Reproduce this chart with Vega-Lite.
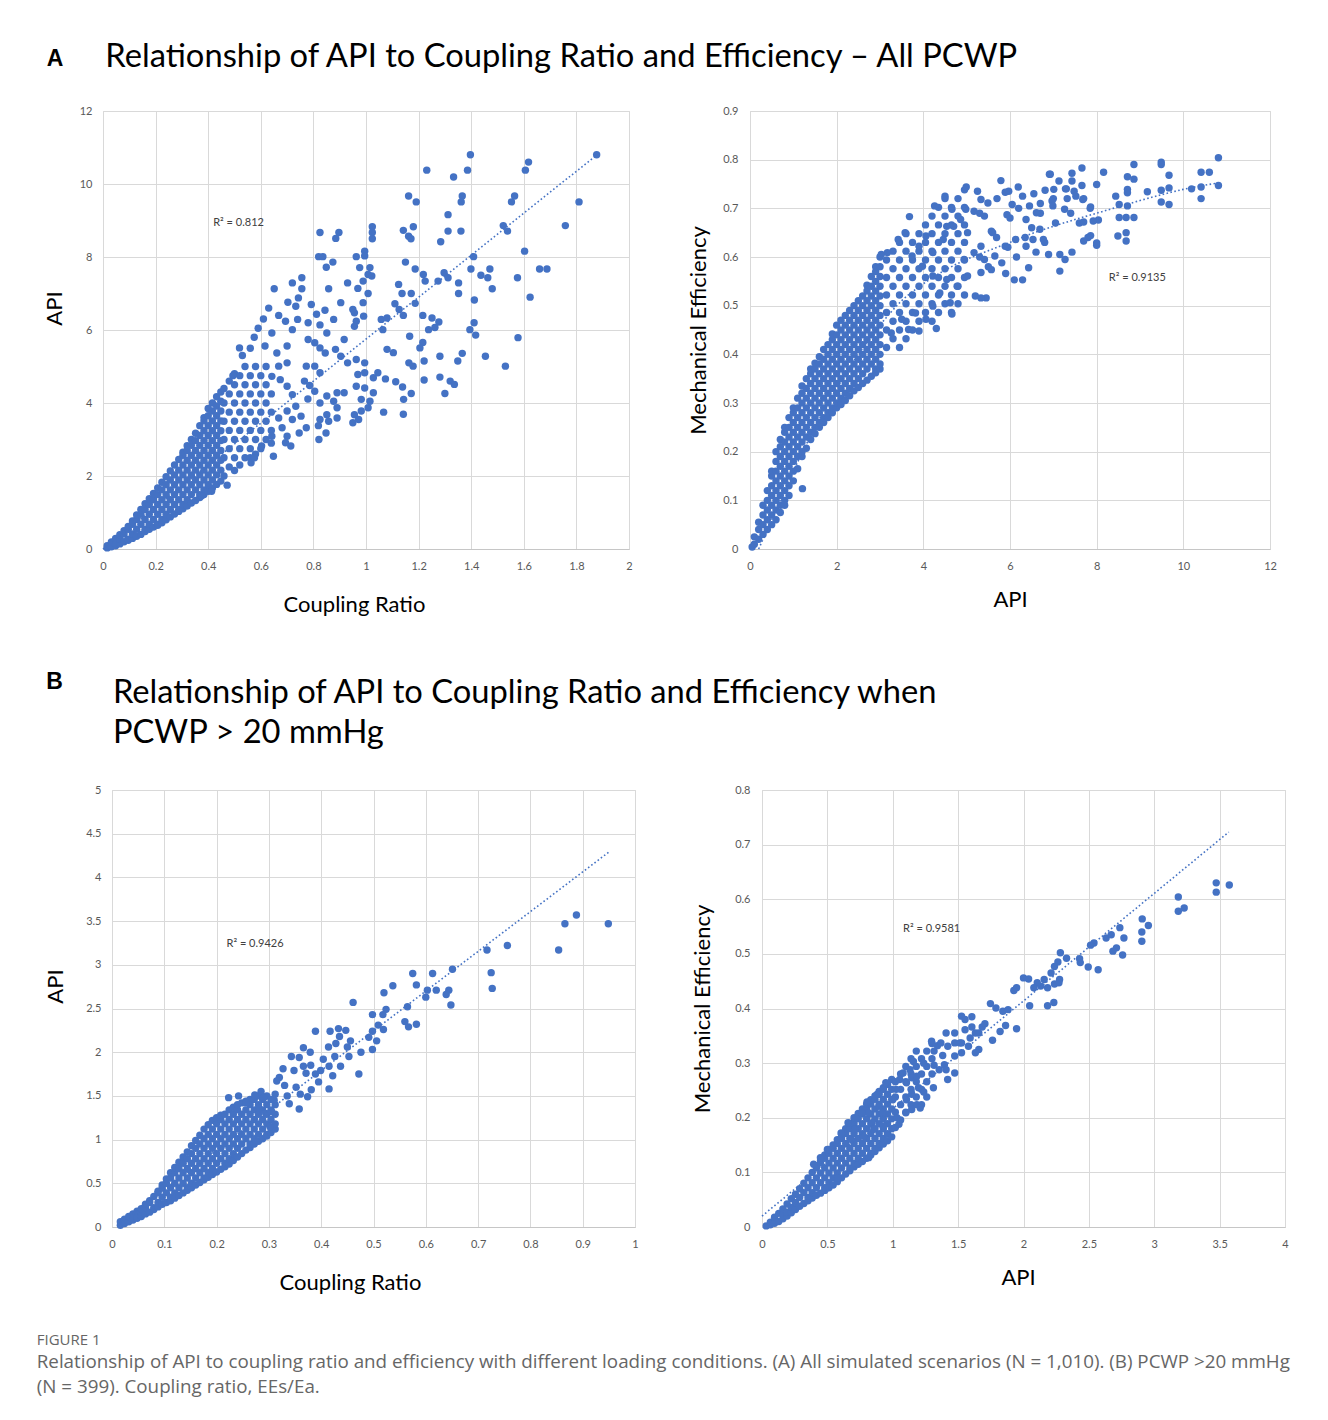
{
"$schema":"https://vega.github.io/schema/vega-lite/v6.json",
"background":"white",
"padding":{"left":36,"top":40,"right":5,"bottom":5},
"config":{
 "font":"Lato",
 "view":{"stroke":"#d9d9d9","strokeWidth":1},
 "axis":{"grid":true,"gridColor":"#d9d9d9","gridWidth":1,"domain":false,"ticks":false,"labelFont":"Lato","labelFontSize":11,"labelColor":"#595959","labelPadding":11,"titleFont":"Lato","titleFontSize":22,"titleFontWeight":"normal","titleColor":"#000000","labelFlush":false,"labelOverlap":false,"labelBound":false},
 "axisX":{"domain":true,"domainColor":"#c6c6c6"}
},
"datasets":{
"a1":[
{"x":0.016,"y":0.03},{"x":0.016,"y":0.09},{"x":0.032,"y":0.06},{"x":0.032,"y":0.19},{"x":0.048,"y":0.09},{"x":0.048,"y":0.14},{"x":0.048,"y":0.29},{"x":0.064,"y":0.14},{"x":0.064,"y":0.27},{"x":0.064,"y":0.39},{"x":0.08,"y":0.2},{"x":0.08,"y":0.41},{"x":0.08,"y":0.5},{"x":0.096,"y":0.24},{"x":0.096,"y":0.27},{"x":0.096,"y":0.54},{"x":0.096,"y":0.62},{"x":0.112,"y":0.29},{"x":0.112,"y":0.41},{"x":0.112,"y":0.68},{"x":0.112,"y":0.77},{"x":0.128,"y":0.35},{"x":0.128,"y":0.54},{"x":0.128,"y":0.81},{"x":0.128,"y":0.93},{"x":0.144,"y":0.4},{"x":0.144,"y":0.68},{"x":0.144,"y":0.95},{"x":0.144,"y":1.08},{"x":0.16,"y":0.48},{"x":0.16,"y":0.54},{"x":0.16,"y":0.81},{"x":0.16,"y":1.08},{"x":0.16,"y":1.24},{"x":0.176,"y":0.54},{"x":0.176,"y":0.68},{"x":0.176,"y":0.95},{"x":0.176,"y":1.22},{"x":0.176,"y":1.38},{"x":0.192,"y":0.6},{"x":0.192,"y":0.81},{"x":0.192,"y":1.08},{"x":0.192,"y":1.35},{"x":0.192,"y":1.52},{"x":0.208,"y":0.65},{"x":0.208,"y":0.68},{"x":0.208,"y":0.95},{"x":0.208,"y":1.22},{"x":0.208,"y":1.49},{"x":0.208,"y":1.67},{"x":0.224,"y":0.72},{"x":0.224,"y":0.81},{"x":0.224,"y":1.08},{"x":0.224,"y":1.35},{"x":0.224,"y":1.62},{"x":0.224,"y":1.83},{"x":0.24,"y":0.8},{"x":0.24,"y":0.95},{"x":0.24,"y":1.22},{"x":0.24,"y":1.49},{"x":0.24,"y":1.76},{"x":0.24,"y":1.98},{"x":0.256,"y":0.88},{"x":0.256,"y":1.08},{"x":0.256,"y":1.35},{"x":0.256,"y":1.62},{"x":0.256,"y":1.89},{"x":0.256,"y":2.14},{"x":0.272,"y":0.96},{"x":0.272,"y":1.22},{"x":0.272,"y":1.49},{"x":0.272,"y":1.76},{"x":0.272,"y":2.03},{"x":0.272,"y":2.3},{"x":0.288,"y":1.03},{"x":0.288,"y":1.08},{"x":0.288,"y":1.35},{"x":0.288,"y":1.62},{"x":0.288,"y":1.89},{"x":0.288,"y":2.16},{"x":0.288,"y":2.45},{"x":0.304,"y":1.1},{"x":0.304,"y":1.22},{"x":0.304,"y":1.49},{"x":0.304,"y":1.76},{"x":0.304,"y":2.03},{"x":0.304,"y":2.3},{"x":0.304,"y":2.57},{"x":0.304,"y":2.65},{"x":0.32,"y":1.18},{"x":0.32,"y":1.35},{"x":0.32,"y":1.62},{"x":0.32,"y":1.89},{"x":0.32,"y":2.16},{"x":0.32,"y":2.43},{"x":0.32,"y":2.7},{"x":0.32,"y":2.83},{"x":0.336,"y":1.26},{"x":0.336,"y":1.49},{"x":0.336,"y":1.76},{"x":0.336,"y":2.03},{"x":0.336,"y":2.3},{"x":0.336,"y":2.57},{"x":0.336,"y":2.84},{"x":0.336,"y":3.0},{"x":0.352,"y":1.33},{"x":0.352,"y":1.62},{"x":0.352,"y":1.89},{"x":0.352,"y":2.16},{"x":0.352,"y":2.43},{"x":0.352,"y":2.7},{"x":0.352,"y":2.97},{"x":0.352,"y":3.17},{"x":0.368,"y":1.41},{"x":0.368,"y":1.49},{"x":0.368,"y":1.76},{"x":0.368,"y":2.03},{"x":0.368,"y":2.3},{"x":0.368,"y":2.57},{"x":0.368,"y":2.84},{"x":0.368,"y":3.11},{"x":0.368,"y":3.38},{"x":0.384,"y":1.49},{"x":0.384,"y":1.62},{"x":0.384,"y":1.89},{"x":0.384,"y":2.16},{"x":0.384,"y":2.43},{"x":0.384,"y":2.7},{"x":0.384,"y":2.97},{"x":0.384,"y":3.24},{"x":0.384,"y":3.51},{"x":0.384,"y":3.6},{"x":0.4,"y":1.58},{"x":0.4,"y":1.76},{"x":0.4,"y":2.03},{"x":0.4,"y":2.3},{"x":0.4,"y":2.57},{"x":0.4,"y":2.84},{"x":0.4,"y":3.11},{"x":0.4,"y":3.38},{"x":0.4,"y":3.65},{"x":0.4,"y":3.85},{"x":0.416,"y":1.67},{"x":0.416,"y":1.89},{"x":0.416,"y":2.16},{"x":0.416,"y":2.43},{"x":0.416,"y":2.7},{"x":0.416,"y":2.97},{"x":0.416,"y":3.24},{"x":0.416,"y":3.51},{"x":0.416,"y":3.78},{"x":0.416,"y":4.0},{"x":0.432,"y":1.77},{"x":0.432,"y":2.03},{"x":0.432,"y":2.3},{"x":0.432,"y":2.57},{"x":0.432,"y":2.84},{"x":0.432,"y":3.11},{"x":0.432,"y":3.38},{"x":0.432,"y":3.65},{"x":0.432,"y":3.92},{"x":0.432,"y":4.17},{"x":0.448,"y":1.86},{"x":0.448,"y":2.16},{"x":0.448,"y":2.43},{"x":0.448,"y":2.7},{"x":0.448,"y":2.97},{"x":0.448,"y":3.24},{"x":0.448,"y":3.51},{"x":0.448,"y":3.78},{"x":0.448,"y":4.05},{"x":0.448,"y":4.3},
{"x":0.46,"y":2.0},{"x":0.46,"y":2.5},{"x":0.46,"y":3.0},{"x":0.46,"y":3.5},{"x":0.46,"y":4.0},{"x":0.46,"y":4.4},{"x":0.48,"y":2.25},{"x":0.48,"y":2.75},{"x":0.48,"y":3.25},{"x":0.48,"y":3.75},{"x":0.48,"y":4.25},{"x":0.48,"y":4.6},{"x":0.5,"y":2.15},{"x":0.5,"y":2.5},{"x":0.5,"y":3.0},{"x":0.5,"y":3.5},{"x":0.5,"y":4.0},{"x":0.5,"y":4.5},{"x":0.5,"y":4.8},{"x":0.52,"y":2.3},{"x":0.52,"y":2.75},{"x":0.52,"y":3.25},{"x":0.52,"y":3.75},{"x":0.52,"y":4.25},{"x":0.52,"y":4.75},{"x":0.54,"y":2.5},{"x":0.54,"y":3.0},{"x":0.54,"y":3.5},{"x":0.54,"y":4.0},{"x":0.54,"y":4.5},{"x":0.54,"y":5.0},{"x":0.56,"y":2.5},{"x":0.56,"y":2.75},{"x":0.56,"y":3.25},{"x":0.56,"y":3.75},{"x":0.56,"y":4.25},{"x":0.56,"y":4.75},{"x":0.56,"y":5.5},{"x":0.58,"y":2.6},{"x":0.58,"y":3.0},{"x":0.58,"y":3.5},{"x":0.58,"y":4.0},{"x":0.58,"y":4.5},{"x":0.58,"y":5.0},{"x":0.6,"y":2.75},{"x":0.6,"y":3.25},{"x":0.6,"y":3.75},{"x":0.6,"y":4.25},{"x":0.6,"y":4.75},{"x":0.62,"y":3.0},{"x":0.62,"y":3.5},{"x":0.62,"y":4.0},{"x":0.62,"y":4.5},{"x":0.62,"y":5.0},{"x":0.64,"y":2.9},{"x":0.64,"y":3.25},{"x":0.64,"y":3.75},{"x":0.64,"y":4.25},
{"x":0.616,"y":5.56},{"x":0.642,"y":5.92},{"x":0.668,"y":6.4},{"x":0.694,"y":6.24},{"x":0.7,"y":5.56},{"x":0.72,"y":6.01},{"x":0.733,"y":6.65},{"x":0.74,"y":6.29},{"x":0.661,"y":5.37},{"x":0.7,"y":5.1},{"x":0.668,"y":5.01},{"x":0.642,"y":4.73},{"x":0.674,"y":4.64},{"x":0.7,"y":4.46},{"x":0.72,"y":4.23},{"x":0.733,"y":3.91},{"x":0.753,"y":3.64},{"x":0.7,"y":3.78},{"x":0.668,"y":3.59},{"x":0.72,"y":3.55},{"x":0.681,"y":3.32},{"x":0.7,"y":3.09},{"x":0.714,"y":2.82},{"x":0.694,"y":2.91},{"x":0.773,"y":3.32},{"x":0.746,"y":3.18},{"x":0.642,"y":3.09},{"x":0.603,"y":2.82},{"x":0.563,"y":2.36},{"x":0.576,"y":2.5},{"x":0.648,"y":2.54},
{"x":0.78,"y":5.74},{"x":0.805,"y":5.65},{"x":0.825,"y":5.51},{"x":0.845,"y":5.37},{"x":0.773,"y":5.01},{"x":0.805,"y":5.01},{"x":0.825,"y":4.83},{"x":0.766,"y":4.6},{"x":0.786,"y":4.48},{"x":0.805,"y":4.32},{"x":0.779,"y":4.11},{"x":0.825,"y":4.0},{"x":0.851,"y":4.19},{"x":0.89,"y":4.28},{"x":0.917,"y":4.28},{"x":0.877,"y":4.05},{"x":0.89,"y":3.87},{"x":0.851,"y":3.68},{"x":0.825,"y":3.55},{"x":0.858,"y":3.5},{"x":0.819,"y":3.38},{"x":0.848,"y":3.18},{"x":0.821,"y":3.0},{"x":0.89,"y":3.59},{"x":0.917,"y":5.74},{"x":0.884,"y":5.47},{"x":0.904,"y":5.28},{"x":0.93,"y":5.1},{"x":0.963,"y":5.19},{"x":0.995,"y":5.1},{"x":0.969,"y":4.78},{"x":0.995,"y":4.83},{"x":0.963,"y":4.46},{"x":0.995,"y":4.41},{"x":1.028,"y":4.69},{"x":1.045,"y":4.83},{"x":1.074,"y":4.66},{"x":1.015,"y":4.05},{"x":0.982,"y":4.1},{"x":1.008,"y":3.87},{"x":1.028,"y":4.28},{"x":0.982,"y":3.78},{"x":0.956,"y":3.68},{"x":0.95,"y":3.46},{"x":0.972,"y":3.55},
{"x":1.877,"y":10.8},{"x":1.397,"y":10.8},{"x":1.618,"y":10.6},{"x":1.606,"y":10.38},{"x":1.231,"y":10.38},{"x":1.386,"y":10.38},{"x":1.333,"y":10.19},{"x":1.162,"y":9.67},{"x":1.191,"y":9.51},{"x":1.366,"y":9.67},{"x":1.362,"y":9.51},{"x":1.565,"y":9.67},{"x":1.553,"y":9.51},{"x":1.81,"y":9.51},{"x":1.312,"y":9.16},{"x":1.758,"y":8.86},{"x":1.522,"y":8.86},{"x":1.538,"y":8.71},{"x":1.312,"y":8.71},{"x":1.361,"y":8.71},{"x":1.284,"y":8.42},{"x":0.825,"y":8.67},{"x":0.897,"y":8.67},{"x":0.885,"y":8.51},{"x":1.024,"y":8.83},{"x":1.024,"y":8.67},{"x":1.024,"y":8.5},{"x":1.142,"y":8.73},{"x":1.162,"y":8.57},{"x":1.171,"y":8.5},{"x":1.18,"y":8.83},{"x":1.603,"y":8.16},{"x":1.409,"y":8.01},{"x":0.995,"y":8.16},{"x":0.995,"y":8.03},{"x":0.963,"y":8.01},{"x":0.82,"y":8.01},{"x":0.836,"y":8.01},{"x":0.874,"y":7.86},{"x":0.849,"y":7.72},{"x":1.66,"y":7.67},{"x":1.688,"y":7.67},{"x":1.15,"y":7.86},{"x":1.187,"y":7.67},{"x":1.218,"y":7.52},{"x":1.225,"y":7.34},{"x":1.399,"y":7.67},{"x":1.437,"y":7.5},{"x":1.471,"y":7.67},{"x":1.463,"y":7.43},{"x":1.576,"y":7.43},{"x":1.297,"y":7.57},{"x":1.312,"y":7.43},{"x":1.274,"y":7.34},{"x":1.352,"y":7.29},{"x":1.352,"y":7.0},{"x":1.48,"y":7.13},{"x":1.412,"y":6.82},{"x":1.624,"y":6.9},{"x":0.976,"y":7.71},{"x":1.015,"y":7.71},{"x":1.008,"y":7.52},{"x":0.93,"y":7.29},{"x":0.858,"y":7.13},{"x":0.904,"y":6.75},{"x":0.72,"y":7.29},{"x":0.756,"y":7.43},{"x":0.756,"y":7.13},{"x":0.743,"y":6.88},{"x":0.703,"y":6.76},{"x":1.124,"y":7.25},{"x":1.137,"y":7.0},{"x":1.172,"y":7.0},{"x":1.187,"y":6.73},{"x":1.11,"y":6.72},{"x":1.126,"y":6.56},{"x":1.142,"y":6.4},{"x":1.216,"y":6.4},{"x":1.251,"y":6.33},{"x":1.277,"y":6.22},{"x":1.262,"y":6.07},{"x":1.238,"y":6.01},{"x":1.411,"y":6.2},{"x":1.395,"y":6.01},{"x":1.417,"y":5.86},{"x":1.578,"y":5.79},{"x":0.812,"y":6.43},{"x":0.844,"y":6.54},{"x":0.877,"y":6.29},{"x":0.825,"y":6.14},{"x":0.956,"y":6.47},{"x":0.963,"y":6.24},{"x":0.991,"y":6.38},{"x":1.058,"y":6.29},{"x":1.08,"y":6.33},{"x":1.064,"y":6.01},{"x":1.166,"y":5.83},{"x":1.216,"y":5.66},{"x":1.205,"y":5.51},{"x":1.281,"y":5.28},{"x":1.366,"y":5.36},{"x":1.349,"y":5.15},{"x":1.454,"y":5.28},{"x":1.53,"y":5.01},{"x":1.221,"y":5.15},{"x":1.163,"y":5.1},{"x":1.179,"y":5.01},{"x":1.281,"y":4.71},{"x":1.32,"y":4.6},{"x":1.336,"y":4.51},{"x":1.3,"y":4.26},{"x":1.221,"y":4.63},{"x":1.113,"y":4.58},{"x":1.139,"y":4.44},{"x":1.172,"y":4.26},{"x":1.143,"y":4.1},{"x":1.142,"y":3.69},{"x":1.067,"y":3.75},{"x":1.08,"y":5.47},{"x":1.104,"y":5.38},{"x":0.519,"y":5.51},{"x":0.494,"y":4.75},{"x":0.472,"y":1.75},{"x":0.413,"y":1.58},{"x":0.375,"y":1.46},{"x":0.651,"y":7.13},{"x":0.53,"y":5.3},{"x":0.575,"y":5.8},{"x":0.59,"y":6.05},{"x":0.61,"y":6.3},{"x":0.63,"y":6.6},{"x":0.969,"y":7.14},{"x":0.989,"y":7.34},{"x":1.008,"y":7.0},{"x":1.022,"y":7.48},{"x":0.95,"y":6.56},{"x":0.989,"y":6.75},{"x":0.956,"y":6.1},{"x":0.792,"y":6.7},{"x":0.851,"y":5.92},{"x":0.78,"y":6.2}
],
"a2":[
{"x":0.05,"y":0.004},{"x":0.1,"y":0.01},{"x":0.1,"y":0.025},{"x":0.2,"y":0.02},{"x":0.2,"y":0.04},{"x":0.2,"y":0.055},{"x":0.3,"y":0.03},{"x":0.3,"y":0.05},{"x":0.3,"y":0.07},{"x":0.3,"y":0.09},{"x":0.4,"y":0.04},{"x":0.4,"y":0.06},{"x":0.4,"y":0.08},{"x":0.4,"y":0.1},{"x":0.4,"y":0.12},{"x":0.5,"y":0.05},{"x":0.5,"y":0.07},{"x":0.5,"y":0.09},{"x":0.5,"y":0.11},{"x":0.5,"y":0.13},{"x":0.5,"y":0.15},{"x":0.5,"y":0.16},{"x":0.6,"y":0.06},{"x":0.6,"y":0.08},{"x":0.6,"y":0.1},{"x":0.6,"y":0.12},{"x":0.6,"y":0.14},{"x":0.6,"y":0.16},{"x":0.6,"y":0.18},{"x":0.6,"y":0.2},{"x":0.7,"y":0.075},{"x":0.7,"y":0.09},{"x":0.7,"y":0.11},{"x":0.7,"y":0.13},{"x":0.7,"y":0.15},{"x":0.7,"y":0.17},{"x":0.7,"y":0.19},{"x":0.7,"y":0.21},{"x":0.7,"y":0.225},{"x":0.8,"y":0.09},{"x":0.8,"y":0.1},{"x":0.8,"y":0.12},{"x":0.8,"y":0.14},{"x":0.8,"y":0.16},{"x":0.8,"y":0.18},{"x":0.8,"y":0.2},{"x":0.8,"y":0.22},{"x":0.8,"y":0.24},{"x":0.8,"y":0.25},{"x":0.9,"y":0.11},{"x":0.9,"y":0.13},{"x":0.9,"y":0.15},{"x":0.9,"y":0.17},{"x":0.9,"y":0.19},{"x":0.9,"y":0.21},{"x":0.9,"y":0.23},{"x":0.9,"y":0.25},{"x":0.9,"y":0.27},{"x":1.0,"y":0.14},{"x":1.0,"y":0.16},{"x":1.0,"y":0.18},{"x":1.0,"y":0.2},{"x":1.0,"y":0.22},{"x":1.0,"y":0.24},{"x":1.0,"y":0.26},{"x":1.0,"y":0.28},{"x":1.0,"y":0.29},{"x":1.1,"y":0.165},{"x":1.1,"y":0.19},{"x":1.1,"y":0.21},{"x":1.1,"y":0.23},{"x":1.1,"y":0.25},{"x":1.1,"y":0.27},{"x":1.1,"y":0.29},{"x":1.1,"y":0.31},{"x":1.2,"y":0.19},{"x":1.2,"y":0.2},{"x":1.2,"y":0.22},{"x":1.2,"y":0.24},{"x":1.2,"y":0.26},{"x":1.2,"y":0.28},{"x":1.2,"y":0.3},{"x":1.2,"y":0.32},{"x":1.2,"y":0.335},{"x":1.3,"y":0.207},{"x":1.3,"y":0.23},{"x":1.3,"y":0.25},{"x":1.3,"y":0.27},{"x":1.3,"y":0.29},{"x":1.3,"y":0.31},{"x":1.3,"y":0.33},{"x":1.3,"y":0.35},{"x":1.4,"y":0.225},{"x":1.4,"y":0.24},{"x":1.4,"y":0.26},{"x":1.4,"y":0.28},{"x":1.4,"y":0.3},{"x":1.4,"y":0.32},{"x":1.4,"y":0.34},{"x":1.4,"y":0.36},{"x":1.4,"y":0.37},{"x":1.5,"y":0.237},{"x":1.5,"y":0.25},{"x":1.5,"y":0.27},{"x":1.5,"y":0.29},{"x":1.5,"y":0.31},{"x":1.5,"y":0.33},{"x":1.5,"y":0.35},{"x":1.5,"y":0.37},{"x":1.5,"y":0.382},{"x":1.6,"y":0.25},{"x":1.6,"y":0.26},{"x":1.6,"y":0.28},{"x":1.6,"y":0.3},{"x":1.6,"y":0.32},{"x":1.6,"y":0.34},{"x":1.6,"y":0.36},{"x":1.6,"y":0.38},{"x":1.6,"y":0.395},{"x":1.7,"y":0.26},{"x":1.7,"y":0.27},{"x":1.7,"y":0.29},{"x":1.7,"y":0.31},{"x":1.7,"y":0.33},{"x":1.7,"y":0.35},{"x":1.7,"y":0.37},{"x":1.7,"y":0.39},{"x":1.7,"y":0.41},{"x":1.8,"y":0.27},{"x":1.8,"y":0.28},{"x":1.8,"y":0.3},{"x":1.8,"y":0.32},{"x":1.8,"y":0.34},{"x":1.8,"y":0.36},{"x":1.8,"y":0.38},{"x":1.8,"y":0.4},{"x":1.8,"y":0.42},{"x":1.9,"y":0.28},{"x":1.9,"y":0.29},{"x":1.9,"y":0.31},{"x":1.9,"y":0.33},{"x":1.9,"y":0.35},{"x":1.9,"y":0.37},{"x":1.9,"y":0.39},{"x":1.9,"y":0.41},{"x":1.9,"y":0.43},{"x":1.9,"y":0.442},{"x":2.0,"y":0.29},{"x":2.0,"y":0.3},{"x":2.0,"y":0.32},{"x":2.0,"y":0.34},{"x":2.0,"y":0.36},{"x":2.0,"y":0.38},{"x":2.0,"y":0.4},{"x":2.0,"y":0.42},{"x":2.0,"y":0.44},{"x":2.0,"y":0.46},{"x":2.1,"y":0.297},{"x":2.1,"y":0.31},{"x":2.1,"y":0.33},{"x":2.1,"y":0.35},{"x":2.1,"y":0.37},{"x":2.1,"y":0.39},{"x":2.1,"y":0.41},{"x":2.1,"y":0.43},{"x":2.1,"y":0.45},{"x":2.1,"y":0.47},{"x":2.2,"y":0.305},{"x":2.2,"y":0.32},{"x":2.2,"y":0.34},{"x":2.2,"y":0.36},{"x":2.2,"y":0.38},{"x":2.2,"y":0.4},{"x":2.2,"y":0.42},{"x":2.2,"y":0.44},{"x":2.2,"y":0.46},{"x":2.2,"y":0.48},{"x":2.3,"y":0.315},{"x":2.3,"y":0.33},{"x":2.3,"y":0.35},{"x":2.3,"y":0.37},{"x":2.3,"y":0.39},{"x":2.3,"y":0.41},{"x":2.3,"y":0.43},{"x":2.3,"y":0.45},{"x":2.3,"y":0.47},{"x":2.3,"y":0.49},{"x":2.4,"y":0.325},{"x":2.4,"y":0.34},{"x":2.4,"y":0.36},{"x":2.4,"y":0.38},{"x":2.4,"y":0.4},{"x":2.4,"y":0.42},{"x":2.4,"y":0.44},{"x":2.4,"y":0.46},{"x":2.4,"y":0.48},{"x":2.4,"y":0.5},{"x":2.5,"y":0.332},{"x":2.5,"y":0.35},{"x":2.5,"y":0.37},{"x":2.5,"y":0.39},{"x":2.5,"y":0.41},{"x":2.5,"y":0.43},{"x":2.5,"y":0.45},{"x":2.5,"y":0.47},{"x":2.5,"y":0.49},{"x":2.5,"y":0.51},{"x":2.6,"y":0.34},{"x":2.6,"y":0.36},{"x":2.6,"y":0.38},{"x":2.6,"y":0.4},{"x":2.6,"y":0.42},{"x":2.6,"y":0.44},{"x":2.6,"y":0.46},{"x":2.6,"y":0.48},{"x":2.6,"y":0.5},{"x":2.6,"y":0.52},{"x":2.7,"y":0.347},{"x":2.7,"y":0.37},{"x":2.7,"y":0.39},{"x":2.7,"y":0.41},{"x":2.7,"y":0.43},{"x":2.7,"y":0.45},{"x":2.7,"y":0.47},{"x":2.7,"y":0.49},{"x":2.7,"y":0.51},{"x":2.7,"y":0.53},{"x":2.7,"y":0.542},{"x":2.8,"y":0.355},{"x":2.8,"y":0.38},{"x":2.8,"y":0.4},{"x":2.8,"y":0.42},{"x":2.8,"y":0.44},{"x":2.8,"y":0.46},{"x":2.8,"y":0.48},{"x":2.8,"y":0.5},{"x":2.8,"y":0.52},{"x":2.8,"y":0.54},{"x":2.8,"y":0.56},{"x":2.9,"y":0.362},{"x":2.9,"y":0.37},{"x":2.9,"y":0.39},{"x":2.9,"y":0.41},{"x":2.9,"y":0.43},{"x":2.9,"y":0.45},{"x":2.9,"y":0.47},{"x":2.9,"y":0.49},{"x":2.9,"y":0.51},{"x":2.9,"y":0.53},{"x":2.9,"y":0.55},{"x":2.9,"y":0.57},{"x":2.9,"y":0.58},{"x":3.0,"y":0.37},{"x":3.0,"y":0.38},{"x":3.0,"y":0.4},{"x":3.0,"y":0.42},{"x":3.0,"y":0.44},{"x":3.0,"y":0.46},{"x":3.0,"y":0.48},{"x":3.0,"y":0.5},{"x":3.0,"y":0.52},{"x":3.0,"y":0.54},{"x":3.0,"y":0.56},{"x":3.0,"y":0.58},{"x":3.0,"y":0.6},
{"x":3.15,"y":0.414},{"x":3.15,"y":0.45},{"x":3.15,"y":0.486},{"x":3.15,"y":0.522},{"x":3.15,"y":0.558},{"x":3.15,"y":0.594},{"x":3.3,"y":0.432},{"x":3.3,"y":0.468},{"x":3.3,"y":0.504},{"x":3.3,"y":0.54},{"x":3.3,"y":0.576},{"x":3.3,"y":0.612},{"x":3.45,"y":0.414},{"x":3.45,"y":0.45},{"x":3.45,"y":0.486},{"x":3.45,"y":0.522},{"x":3.45,"y":0.558},{"x":3.45,"y":0.594},{"x":3.45,"y":0.63},{"x":3.6,"y":0.432},{"x":3.6,"y":0.468},{"x":3.6,"y":0.504},{"x":3.6,"y":0.54},{"x":3.6,"y":0.576},{"x":3.6,"y":0.612},{"x":3.6,"y":0.648},{"x":3.75,"y":0.45},{"x":3.75,"y":0.486},{"x":3.75,"y":0.522},{"x":3.75,"y":0.558},{"x":3.75,"y":0.594},{"x":3.75,"y":0.63},{"x":3.9,"y":0.468},{"x":3.9,"y":0.504},{"x":3.9,"y":0.54},{"x":3.9,"y":0.576},{"x":3.9,"y":0.612},{"x":3.9,"y":0.648},{"x":4.05,"y":0.486},{"x":4.05,"y":0.522},{"x":4.05,"y":0.558},{"x":4.05,"y":0.594},{"x":4.05,"y":0.63},{"x":4.05,"y":0.666},{"x":4.2,"y":0.468},{"x":4.2,"y":0.504},{"x":4.2,"y":0.54},{"x":4.2,"y":0.576},{"x":4.2,"y":0.612},{"x":4.2,"y":0.648},{"x":4.2,"y":0.684},{"x":4.35,"y":0.486},{"x":4.35,"y":0.522},{"x":4.35,"y":0.558},{"x":4.35,"y":0.594},{"x":4.35,"y":0.63},{"x":4.35,"y":0.666},{"x":4.35,"y":0.702},{"x":4.5,"y":0.504},{"x":4.5,"y":0.54},{"x":4.5,"y":0.576},{"x":4.5,"y":0.612},{"x":4.5,"y":0.648},{"x":4.5,"y":0.684},{"x":4.5,"y":0.72},{"x":4.65,"y":0.486},{"x":4.65,"y":0.522},{"x":4.65,"y":0.558},{"x":4.65,"y":0.594},{"x":4.65,"y":0.63},{"x":4.65,"y":0.666},{"x":4.65,"y":0.702},{"x":4.8,"y":0.504},{"x":4.8,"y":0.54},{"x":4.8,"y":0.576},{"x":4.8,"y":0.612},{"x":4.8,"y":0.648},{"x":4.8,"y":0.684},{"x":4.8,"y":0.72},{"x":4.95,"y":0.522},{"x":4.95,"y":0.558},{"x":4.95,"y":0.594},{"x":4.95,"y":0.63},{"x":4.95,"y":0.666},{"x":4.95,"y":0.702},{"x":4.95,"y":0.738},
{"x":5.2,"y":0.52},{"x":5.3,"y":0.6},{"x":5.3,"y":0.69},{"x":5.45,"y":0.516},{"x":5.5,"y":0.58},{"x":5.6,"y":0.65},{"x":5.7,"y":0.72},{"x":5.79,"y":0.757},{"x":5.9,"y":0.566},{"x":5.95,"y":0.62},{"x":6.0,"y":0.68},{"x":6.1,"y":0.553},{"x":6.15,"y":0.6},{"x":6.2,"y":0.7},{"x":6.29,"y":0.553},{"x":6.35,"y":0.64},{"x":6.43,"y":0.578},{"x":6.5,"y":0.66},{"x":6.55,"y":0.73},{"x":6.6,"y":0.61},{"x":6.7,"y":0.69},{"x":6.8,"y":0.63},{"x":6.89,"y":0.605},{"x":6.93,"y":0.77},{"x":7.0,"y":0.72},{"x":7.05,"y":0.67},{"x":7.15,"y":0.605},{"x":7.15,"y":0.571},{"x":7.27,"y":0.595},{"x":7.3,"y":0.74},{"x":7.4,"y":0.69},{"x":7.43,"y":0.61},{"x":7.6,"y":0.67},{"x":7.66,"y":0.783},{"x":7.7,"y":0.72},{"x":7.8,"y":0.64},{"x":7.85,"y":0.7},{"x":8.0,"y":0.749},{"x":8.0,"y":0.624},{"x":8.16,"y":0.774},{"x":8.44,"y":0.725},{"x":8.52,"y":0.708},{"x":8.71,"y":0.705},{"x":8.71,"y":0.739},{"x":8.71,"y":0.732},{"x":8.52,"y":0.681},{"x":8.68,"y":0.681},{"x":8.86,"y":0.681},{"x":8.49,"y":0.643},{"x":8.68,"y":0.65},{"x":8.68,"y":0.633},{"x":7.86,"y":0.703},{"x":8.04,"y":0.676},{"x":7.92,"y":0.674},{"x":7.86,"y":0.644},{"x":8.0,"y":0.629},{"x":7.7,"y":0.672},{"x":7.7,"y":0.633},{"x":7.43,"y":0.772},{"x":7.43,"y":0.756},{"x":7.66,"y":0.747},{"x":7.48,"y":0.735},{"x":7.32,"y":0.72},{"x":7.52,"y":0.725},{"x":7.68,"y":0.718},{"x":7.26,"y":0.698},{"x":6.97,"y":0.715},{"x":6.99,"y":0.705},{"x":6.91,"y":0.77},{"x":7.13,"y":0.756},{"x":6.81,"y":0.737},{"x":7.01,"y":0.739},{"x":7.28,"y":0.74},{"x":6.7,"y":0.71},{"x":8.86,"y":0.79},{"x":8.71,"y":0.765},{"x":8.86,"y":0.76},{"x":9.17,"y":0.734},{"x":9.49,"y":0.795},{"x":9.49,"y":0.79},{"x":9.67,"y":0.768},{"x":9.67,"y":0.742},{"x":9.49,"y":0.737},{"x":9.49,"y":0.713},{"x":9.67,"y":0.708},{"x":10.81,"y":0.804},{"x":10.81,"y":0.747},{"x":10.41,"y":0.774},{"x":10.6,"y":0.774},{"x":10.41,"y":0.744},{"x":10.19,"y":0.74},{"x":10.41,"y":0.72},
{"x":3.68,"y":0.683},{"x":4.26,"y":0.705},{"x":4.5,"y":0.725},{"x":4.99,"y":0.744},{"x":5.25,"y":0.735},{"x":5.33,"y":0.718},{"x":5.49,"y":0.711},{"x":5.89,"y":0.733},{"x":5.97,"y":0.735},{"x":6.19,"y":0.744},{"x":6.29,"y":0.725},{"x":6.05,"y":0.708},{"x":5.93,"y":0.687},{"x":6.45,"y":0.705},{"x":6.61,"y":0.691},{"x":6.37,"y":0.677},{"x":6.69,"y":0.657},{"x":6.53,"y":0.636},{"x":6.77,"y":0.636},{"x":6.37,"y":0.622},{"x":6.13,"y":0.636},{"x":5.89,"y":0.622},{"x":5.69,"y":0.64},{"x":5.57,"y":0.653},{"x":5.41,"y":0.684},{"x":5.17,"y":0.694},{"x":4.98,"y":0.698},{"x":4.66,"y":0.698},{"x":4.86,"y":0.677},{"x":4.7,"y":0.663},{"x":5.02,"y":0.65},{"x":5.33,"y":0.622},{"x":5.17,"y":0.609},{"x":4.94,"y":0.595},{"x":5.41,"y":0.595},{"x":5.65,"y":0.602},{"x":5.81,"y":0.588},{"x":5.57,"y":0.574},{"x":5.33,"y":0.568},{"x":5.02,"y":0.561},{"x":4.78,"y":0.54},{"x":4.62,"y":0.506},{"x":4.38,"y":0.526},{"x":4.22,"y":0.499},{"x":4.06,"y":0.472},{"x":3.82,"y":0.485},{"x":3.66,"y":0.451},{"x":3.5,"y":0.472},{"x":3.26,"y":0.444},{"x":4.54,"y":0.554},{"x":4.22,"y":0.561},{"x":3.98,"y":0.581},{"x":3.74,"y":0.602},{"x":4.22,"y":0.609},{"x":4.46,"y":0.636},{"x":4.54,"y":0.663},{"x":4.06,"y":0.643},{"x":3.9,"y":0.622},{"x":3.42,"y":0.636},{"x":3.58,"y":0.65},{"x":4.3,"y":0.453},{"x":1.21,"y":0.124},{"x":4.66,"y":0.483},{"x":3.9,"y":0.448},{"x":3.03,"y":0.605},{"x":3.17,"y":0.609},{"x":5.33,"y":0.516}
],
"b1":[
{"x":0.016,"y":0.02},{"x":0.016,"y":0.06},{"x":0.024,"y":0.04},{"x":0.024,"y":0.06},{"x":0.024,"y":0.09},{"x":0.032,"y":0.06},{"x":0.032,"y":0.12},{"x":0.04,"y":0.08},{"x":0.04,"y":0.15},{"x":0.048,"y":0.1},{"x":0.048,"y":0.11},{"x":0.048,"y":0.18},{"x":0.056,"y":0.12},{"x":0.056,"y":0.17},{"x":0.056,"y":0.21},{"x":0.064,"y":0.15},{"x":0.064,"y":0.22},{"x":0.064,"y":0.26},{"x":0.072,"y":0.17},{"x":0.072,"y":0.28},{"x":0.072,"y":0.3},{"x":0.08,"y":0.2},{"x":0.08,"y":0.22},{"x":0.08,"y":0.35},{"x":0.088,"y":0.23},{"x":0.088,"y":0.28},{"x":0.088,"y":0.39},{"x":0.088,"y":0.41},{"x":0.096,"y":0.26},{"x":0.096,"y":0.34},{"x":0.096,"y":0.45},{"x":0.096,"y":0.48},{"x":0.104,"y":0.28},{"x":0.104,"y":0.39},{"x":0.104,"y":0.5},{"x":0.104,"y":0.55},{"x":0.112,"y":0.3},{"x":0.112,"y":0.34},{"x":0.112,"y":0.45},{"x":0.112,"y":0.56},{"x":0.112,"y":0.62},{"x":0.12,"y":0.33},{"x":0.12,"y":0.39},{"x":0.12,"y":0.5},{"x":0.12,"y":0.62},{"x":0.12,"y":0.68},{"x":0.128,"y":0.36},{"x":0.128,"y":0.45},{"x":0.128,"y":0.56},{"x":0.128,"y":0.67},{"x":0.128,"y":0.74},{"x":0.136,"y":0.39},{"x":0.136,"y":0.5},{"x":0.136,"y":0.62},{"x":0.136,"y":0.73},{"x":0.136,"y":0.8},{"x":0.144,"y":0.42},{"x":0.144,"y":0.45},{"x":0.144,"y":0.56},{"x":0.144,"y":0.67},{"x":0.144,"y":0.78},{"x":0.144,"y":0.86},{"x":0.152,"y":0.45},{"x":0.152,"y":0.5},{"x":0.152,"y":0.62},{"x":0.152,"y":0.73},{"x":0.152,"y":0.84},{"x":0.152,"y":0.93},{"x":0.16,"y":0.48},{"x":0.16,"y":0.56},{"x":0.16,"y":0.67},{"x":0.16,"y":0.78},{"x":0.16,"y":0.9},{"x":0.16,"y":0.99},{"x":0.168,"y":0.51},{"x":0.168,"y":0.62},{"x":0.168,"y":0.73},{"x":0.168,"y":0.84},{"x":0.168,"y":0.95},{"x":0.168,"y":1.05},{"x":0.176,"y":0.54},{"x":0.176,"y":0.56},{"x":0.176,"y":0.67},{"x":0.176,"y":0.78},{"x":0.176,"y":0.9},{"x":0.176,"y":1.01},{"x":0.176,"y":1.12},{"x":0.184,"y":0.57},{"x":0.184,"y":0.62},{"x":0.184,"y":0.73},{"x":0.184,"y":0.84},{"x":0.184,"y":0.95},{"x":0.184,"y":1.06},{"x":0.184,"y":1.17},{"x":0.192,"y":0.6},{"x":0.192,"y":0.67},{"x":0.192,"y":0.78},{"x":0.192,"y":0.9},{"x":0.192,"y":1.01},{"x":0.192,"y":1.12},{"x":0.192,"y":1.22},{"x":0.2,"y":0.63},{"x":0.2,"y":0.73},{"x":0.2,"y":0.84},{"x":0.2,"y":0.95},{"x":0.2,"y":1.06},{"x":0.2,"y":1.18},{"x":0.2,"y":1.25},{"x":0.208,"y":0.66},{"x":0.208,"y":0.78},{"x":0.208,"y":0.9},{"x":0.208,"y":1.01},{"x":0.208,"y":1.12},{"x":0.208,"y":1.23},{"x":0.208,"y":1.28},{"x":0.216,"y":0.69},{"x":0.216,"y":0.73},{"x":0.216,"y":0.84},{"x":0.216,"y":0.95},{"x":0.216,"y":1.06},{"x":0.216,"y":1.18},{"x":0.216,"y":1.29},{"x":0.224,"y":0.72},{"x":0.224,"y":0.78},{"x":0.224,"y":0.9},{"x":0.224,"y":1.01},{"x":0.224,"y":1.12},{"x":0.224,"y":1.23},{"x":0.224,"y":1.34},{"x":0.232,"y":0.76},{"x":0.232,"y":0.84},{"x":0.232,"y":0.95},{"x":0.232,"y":1.06},{"x":0.232,"y":1.18},{"x":0.232,"y":1.29},{"x":0.232,"y":1.37},{"x":0.24,"y":0.8},{"x":0.24,"y":0.9},{"x":0.24,"y":1.01},{"x":0.24,"y":1.12},{"x":0.24,"y":1.23},{"x":0.24,"y":1.34},{"x":0.24,"y":1.4},{"x":0.248,"y":0.84},{"x":0.248,"y":0.95},{"x":0.248,"y":1.06},{"x":0.248,"y":1.18},{"x":0.248,"y":1.29},{"x":0.248,"y":1.42},{"x":0.256,"y":0.88},{"x":0.256,"y":1.01},{"x":0.256,"y":1.12},{"x":0.256,"y":1.23},{"x":0.256,"y":1.34},{"x":0.256,"y":1.44},{"x":0.264,"y":0.91},{"x":0.264,"y":0.95},{"x":0.264,"y":1.06},{"x":0.264,"y":1.18},{"x":0.264,"y":1.29},{"x":0.264,"y":1.4},{"x":0.264,"y":1.46},{"x":0.272,"y":0.95},{"x":0.272,"y":1.01},{"x":0.272,"y":1.12},{"x":0.272,"y":1.23},{"x":0.272,"y":1.34},{"x":0.272,"y":1.46},{"x":0.28,"y":0.98},{"x":0.28,"y":1.06},{"x":0.28,"y":1.18},{"x":0.28,"y":1.29},{"x":0.28,"y":1.4},{"x":0.28,"y":1.5},{"x":0.288,"y":1.01},{"x":0.288,"y":1.12},{"x":0.288,"y":1.23},{"x":0.288,"y":1.34},{"x":0.288,"y":1.46},{"x":0.296,"y":1.04},{"x":0.296,"y":1.06},{"x":0.296,"y":1.18},{"x":0.296,"y":1.29},{"x":0.296,"y":1.4},{"x":0.296,"y":1.5},{"x":0.304,"y":1.08},{"x":0.304,"y":1.12},{"x":0.304,"y":1.23},{"x":0.304,"y":1.34},{"x":0.304,"y":1.46},{"x":0.312,"y":1.12},{"x":0.312,"y":1.18},{"x":0.312,"y":1.29},{"x":0.312,"y":1.4},{"x":0.312,"y":1.52},
{"x":0.366,"y":2.05},{"x":0.379,"y":2.0},{"x":0.343,"y":1.95},{"x":0.366,"y":1.84},{"x":0.348,"y":1.79},{"x":0.371,"y":1.76},{"x":0.389,"y":1.75},{"x":0.399,"y":1.79},{"x":0.327,"y":1.81},{"x":0.32,"y":1.71},{"x":0.315,"y":1.67},{"x":0.339,"y":1.41},{"x":0.223,"y":1.48},{"x":0.242,"y":1.5},{"x":0.273,"y":1.51},{"x":0.285,"y":1.55},{"x":0.256,"y":1.42},{"x":0.281,"y":1.36},{"x":0.294,"y":1.3},{"x":0.305,"y":1.32},{"x":0.302,"y":1.15},{"x":0.415,"y":1.58},{"x":0.389,"y":2.24},{"x":0.417,"y":2.24},{"x":0.433,"y":2.27},{"x":0.447,"y":2.25},{"x":0.435,"y":2.18},{"x":0.428,"y":2.1},{"x":0.456,"y":2.13},{"x":0.45,"y":2.06},{"x":0.453,"y":1.95},{"x":0.426,"y":1.95},{"x":0.404,"y":1.92},{"x":0.415,"y":1.84},{"x":0.422,"y":1.73},{"x":0.437,"y":1.84},{"x":0.476,"y":2.0},{"x":0.472,"y":1.75},{"x":0.461,"y":2.57},{"x":0.509,"y":2.31},{"x":0.519,"y":2.26},{"x":0.498,"y":2.24},{"x":0.491,"y":2.17},{"x":0.506,"y":2.13},{"x":0.498,"y":2.03},{"x":0.498,"y":2.43},{"x":0.518,"y":2.43},{"x":0.524,"y":2.49},{"x":0.52,"y":2.68},{"x":0.537,"y":2.76},{"x":0.565,"y":2.52},{"x":0.56,"y":2.35},{"x":0.567,"y":2.29},{"x":0.582,"y":2.32},{"x":0.575,"y":2.9},{"x":0.582,"y":2.77},{"x":0.613,"y":2.9},{"x":0.603,"y":2.71},{"x":0.62,"y":2.71},{"x":0.6,"y":2.63},{"x":0.644,"y":2.71},{"x":0.639,"y":2.66},{"x":0.648,"y":2.54},{"x":0.651,"y":2.95},{"x":0.717,"y":3.17},{"x":0.725,"y":2.91},{"x":0.727,"y":2.73},{"x":0.756,"y":3.22},{"x":0.854,"y":3.17},{"x":0.866,"y":3.47},{"x":0.888,"y":3.57},{"x":0.949,"y":3.47},{"x":0.414,"y":2.06},{"x":0.374,"y":1.49},{"x":0.381,"y":1.57},{"x":0.358,"y":1.35},{"x":0.33,"y":1.62},{"x":0.352,"y":1.6},{"x":0.36,"y":1.52},{"x":0.31,"y":1.45},{"x":0.29,"y":1.48},{"x":0.335,"y":1.5},{"x":0.395,"y":1.66},{"x":0.38,"y":1.85},{"x":0.358,"y":1.94}
],
"b2":[
{"x":0.032,"y":0.002},{"x":0.064,"y":0.004},{"x":0.064,"y":0.009},{"x":0.096,"y":0.007},{"x":0.096,"y":0.018},{"x":0.128,"y":0.01},{"x":0.128,"y":0.025},{"x":0.16,"y":0.015},{"x":0.16,"y":0.024},{"x":0.16,"y":0.033},{"x":0.192,"y":0.02},{"x":0.192,"y":0.027},{"x":0.192,"y":0.042},{"x":0.224,"y":0.026},{"x":0.224,"y":0.036},{"x":0.224,"y":0.052},{"x":0.256,"y":0.032},{"x":0.256,"y":0.045},{"x":0.256,"y":0.06},{"x":0.288,"y":0.038},{"x":0.288,"y":0.054},{"x":0.288,"y":0.07},{"x":0.32,"y":0.043},{"x":0.32,"y":0.063},{"x":0.32,"y":0.08},{"x":0.352,"y":0.048},{"x":0.352,"y":0.054},{"x":0.352,"y":0.072},{"x":0.352,"y":0.09},{"x":0.384,"y":0.053},{"x":0.384,"y":0.063},{"x":0.384,"y":0.081},{"x":0.384,"y":0.1},{"x":0.416,"y":0.058},{"x":0.416,"y":0.072},{"x":0.416,"y":0.09},{"x":0.416,"y":0.108},{"x":0.416,"y":0.112},{"x":0.448,"y":0.062},{"x":0.448,"y":0.081},{"x":0.448,"y":0.099},{"x":0.448,"y":0.117},{"x":0.448,"y":0.122},{"x":0.48,"y":0.067},{"x":0.48,"y":0.072},{"x":0.48,"y":0.09},{"x":0.48,"y":0.108},{"x":0.48,"y":0.126},{"x":0.48,"y":0.132},{"x":0.512,"y":0.072},{"x":0.512,"y":0.081},{"x":0.512,"y":0.099},{"x":0.512,"y":0.117},{"x":0.512,"y":0.135},{"x":0.512,"y":0.142},{"x":0.544,"y":0.077},{"x":0.544,"y":0.09},{"x":0.544,"y":0.108},{"x":0.544,"y":0.126},{"x":0.544,"y":0.144},{"x":0.544,"y":0.15},{"x":0.576,"y":0.083},{"x":0.576,"y":0.099},{"x":0.576,"y":0.117},{"x":0.576,"y":0.135},{"x":0.576,"y":0.153},{"x":0.576,"y":0.16},{"x":0.608,"y":0.09},{"x":0.608,"y":0.108},{"x":0.608,"y":0.126},{"x":0.608,"y":0.144},{"x":0.608,"y":0.162},{"x":0.608,"y":0.17},{"x":0.64,"y":0.097},{"x":0.64,"y":0.117},{"x":0.64,"y":0.135},{"x":0.64,"y":0.153},{"x":0.64,"y":0.171},{"x":0.64,"y":0.18},{"x":0.672,"y":0.103},{"x":0.672,"y":0.108},{"x":0.672,"y":0.126},{"x":0.672,"y":0.144},{"x":0.672,"y":0.162},{"x":0.672,"y":0.18},{"x":0.672,"y":0.19},{"x":0.704,"y":0.11},{"x":0.704,"y":0.117},{"x":0.704,"y":0.135},{"x":0.704,"y":0.153},{"x":0.704,"y":0.171},{"x":0.704,"y":0.189},{"x":0.704,"y":0.2},{"x":0.736,"y":0.115},{"x":0.736,"y":0.126},{"x":0.736,"y":0.144},{"x":0.736,"y":0.162},{"x":0.736,"y":0.18},{"x":0.736,"y":0.198},{"x":0.736,"y":0.208},{"x":0.768,"y":0.12},{"x":0.768,"y":0.135},{"x":0.768,"y":0.153},{"x":0.768,"y":0.171},{"x":0.768,"y":0.189},{"x":0.768,"y":0.207},{"x":0.768,"y":0.216},{"x":0.8,"y":0.126},{"x":0.8,"y":0.144},{"x":0.8,"y":0.162},{"x":0.8,"y":0.18},{"x":0.8,"y":0.198},{"x":0.8,"y":0.216},{"x":0.8,"y":0.225},{"x":0.832,"y":0.132},{"x":0.832,"y":0.135},{"x":0.832,"y":0.153},{"x":0.832,"y":0.171},{"x":0.832,"y":0.189},{"x":0.832,"y":0.207},{"x":0.832,"y":0.225},{"x":0.832,"y":0.233},{"x":0.864,"y":0.138},{"x":0.864,"y":0.144},{"x":0.864,"y":0.162},{"x":0.864,"y":0.18},{"x":0.864,"y":0.198},{"x":0.864,"y":0.216},{"x":0.864,"y":0.234},{"x":0.864,"y":0.24},{"x":0.896,"y":0.145},{"x":0.896,"y":0.153},{"x":0.896,"y":0.171},{"x":0.896,"y":0.189},{"x":0.896,"y":0.207},{"x":0.896,"y":0.225},{"x":0.896,"y":0.243},{"x":0.896,"y":0.248},{"x":0.928,"y":0.152},{"x":0.928,"y":0.162},{"x":0.928,"y":0.18},{"x":0.928,"y":0.198},{"x":0.928,"y":0.216},{"x":0.928,"y":0.234},{"x":0.928,"y":0.252},{"x":0.928,"y":0.255},{"x":0.96,"y":0.158},{"x":0.96,"y":0.171},{"x":0.96,"y":0.189},{"x":0.96,"y":0.207},{"x":0.96,"y":0.225},{"x":0.96,"y":0.243},{"x":0.96,"y":0.261},{"x":0.992,"y":0.165},{"x":0.992,"y":0.18},{"x":0.992,"y":0.198},{"x":0.992,"y":0.216},{"x":0.992,"y":0.234},{"x":0.992,"y":0.252},{"x":0.992,"y":0.27},
{"x":1.02,"y":0.182},{"x":1.02,"y":0.21},{"x":1.02,"y":0.238},{"x":1.02,"y":0.266},{"x":1.06,"y":0.196},{"x":1.06,"y":0.224},{"x":1.06,"y":0.252},{"x":1.06,"y":0.28},{"x":1.1,"y":0.21},{"x":1.1,"y":0.238},{"x":1.1,"y":0.266},{"x":1.1,"y":0.294},{"x":1.14,"y":0.224},{"x":1.14,"y":0.252},{"x":1.14,"y":0.28},{"x":1.14,"y":0.308},{"x":1.18,"y":0.238},{"x":1.18,"y":0.266},{"x":1.18,"y":0.294},{"x":1.18,"y":0.322},{"x":1.22,"y":0.224},{"x":1.22,"y":0.252},{"x":1.22,"y":0.28},{"x":1.22,"y":0.308},{"x":1.26,"y":0.238},{"x":1.26,"y":0.266},{"x":1.26,"y":0.294},{"x":1.26,"y":0.322},{"x":1.3,"y":0.28},{"x":1.3,"y":0.308},{"x":1.3,"y":0.336},
{"x":1.297,"y":0.34},{"x":1.342,"y":0.332},{"x":1.316,"y":0.322},{"x":1.382,"y":0.314},{"x":1.395,"y":0.297},{"x":1.474,"y":0.282},{"x":1.158,"y":0.303},{"x":1.237,"y":0.3},{"x":1.316,"y":0.296},{"x":1.355,"y":0.288},{"x":1.408,"y":0.288},{"x":1.237,"y":0.247},{"x":1.311,"y":0.255},{"x":1.184,"y":0.224},{"x":1.21,"y":0.218},{"x":1.032,"y":0.2},{"x":1.047,"y":0.188},{"x":1.1,"y":0.209},{"x":1.145,"y":0.215},{"x":0.947,"y":0.264},{"x":0.882,"y":0.243},{"x":0.921,"y":0.209},{"x":0.926,"y":0.185},{"x":0.803,"y":0.229},{"x":0.763,"y":0.209},{"x":0.776,"y":0.166},{"x":0.816,"y":0.127},{"x":0.658,"y":0.191},{"x":0.605,"y":0.172},{"x":0.5,"y":0.142},{"x":0.395,"y":0.115},{"x":0.447,"y":0.127},{"x":0.579,"y":0.09},{"x":0.5,"y":0.072},{"x":1.474,"y":0.355},{"x":1.513,"y":0.337},{"x":1.526,"y":0.386},{"x":1.553,"y":0.38},{"x":1.605,"y":0.385},{"x":1.632,"y":0.355},{"x":1.684,"y":0.366},{"x":1.705,"y":0.372},{"x":1.658,"y":0.325},{"x":1.632,"y":0.319},{"x":1.747,"y":0.409},{"x":1.789,"y":0.401},{"x":1.842,"y":0.395},{"x":1.882,"y":0.398},{"x":1.821,"y":0.358},{"x":1.763,"y":0.342},{"x":1.863,"y":0.369},{"x":1.947,"y":0.363},{"x":1.926,"y":0.433},{"x":1.947,"y":0.438},{"x":2.0,"y":0.456},{"x":2.039,"y":0.454},{"x":2.047,"y":0.405},{"x":2.132,"y":0.441},{"x":2.184,"y":0.438},{"x":2.237,"y":0.445},{"x":2.276,"y":0.453},{"x":2.271,"y":0.447},{"x":2.184,"y":0.405},{"x":2.232,"y":0.411},{"x":2.282,"y":0.502},{"x":2.329,"y":0.492},{"x":2.263,"y":0.485},{"x":2.237,"y":0.477},{"x":2.211,"y":0.465},{"x":2.158,"y":0.453},{"x":2.105,"y":0.447},{"x":2.079,"y":0.438},{"x":2.429,"y":0.491},{"x":2.434,"y":0.484},{"x":2.495,"y":0.476},{"x":2.571,"y":0.471},{"x":2.539,"y":0.52},{"x":2.513,"y":0.516},{"x":2.711,"y":0.511},{"x":2.684,"y":0.505},{"x":2.758,"y":0.498},{"x":2.632,"y":0.529},{"x":2.671,"y":0.535},{"x":2.737,"y":0.548},{"x":2.768,"y":0.529},{"x":2.908,"y":0.564},{"x":2.955,"y":0.552},{"x":2.905,"y":0.54},{"x":2.905,"y":0.523},{"x":3.184,"y":0.604},{"x":3.229,"y":0.584},{"x":3.184,"y":0.578},{"x":3.474,"y":0.63},{"x":3.474,"y":0.613},{"x":3.574,"y":0.626},{"x":1.132,"y":0.288},{"x":1.079,"y":0.282},{"x":1.053,"y":0.27},{"x":1.105,"y":0.264},{"x":1.026,"y":0.252},{"x":1.145,"y":0.273},{"x":1.184,"y":0.276},{"x":1.197,"y":0.255},{"x":1.145,"y":0.243},{"x":1.105,"y":0.233},{"x":1.0,"y":0.233},{"x":0.842,"y":0.191},{"x":0.855,"y":0.179},{"x":0.71,"y":0.179},{"x":0.684,"y":0.16},{"x":0.816,"y":0.209},{"x":0.895,"y":0.221},{"x":1.526,"y":0.319},{"x":1.579,"y":0.331},{"x":1.474,"y":0.313},{"x":1.526,"y":0.337},{"x":1.592,"y":0.346},{"x":1.658,"y":0.355},{"x":1.605,"y":0.366},{"x":1.553,"y":0.361},{"x":1.474,"y":0.337},{"x":1.421,"y":0.331},{"x":1.368,"y":0.337},{"x":1.408,"y":0.355},{"x":1.42,"y":0.27}
],
"l1":[{"x":0,"y":0},{"x":1.88,"y":10.81}],
"l2":[{"x":0.2,"y":0},{"x":0.5,"y":0.06},{"x":1,"y":0.16},{"x":1.5,"y":0.25},{"x":2,"y":0.33},{"x":2.5,"y":0.4},{"x":3,"y":0.46},{"x":3.5,"y":0.51},{"x":4,"y":0.545},{"x":4.5,"y":0.573},{"x":5,"y":0.595},{"x":5.5,"y":0.613},{"x":6,"y":0.63},{"x":6.5,"y":0.648},{"x":7,"y":0.663},{"x":7.5,"y":0.677},{"x":8,"y":0.69},{"x":8.5,"y":0.703},{"x":9,"y":0.716},{"x":9.5,"y":0.728},{"x":10,"y":0.739},{"x":10.8,"y":0.752}],
"l3":[{"x":0.015,"y":0.04},{"x":0.95,"y":4.29}],
"l4":[{"x":0,"y":0.02},{"x":3.57,"y":0.723}]
},
"title":{"text":"FIGURE 1","subtitle":["Relationship of API to coupling ratio and efficiency with different loading conditions. (A) All simulated scenarios (N = 1,010). (B) PCWP >20 mmHg","(N = 399). Coupling ratio, EEs/Ea."],"orient":"bottom","anchor":"start","font":"Open Sans","fontSize":15,"fontWeight":"normal","color":"#666666","subtitleFont":"Open Sans","subtitleFontSize":18.8,"subtitleColor":"#666666","subtitleLineHeight":25,"subtitlePadding":5,"offset":39,"dx":-6},
"spacing":54,
"vconcat":[
{
 "title":{"text":"A","subtitle":"\u200b\u00a0\u00a0\u00a0\u00a0\u00a0\u00a0\u00a0Relationship of API to Coupling Ratio and Efficiency \u2013 All PCWP","anchor":"start","font":"Liberation Sans","fontSize":23,"fontWeight":"bold","color":"#000000","subtitleFont":"Lato","subtitleFontSize":32.7,"subtitleColor":"#000000","subtitlePadding":-30,"offset":24,"dx":4},
 "spacing":54,
 "hconcat":[
 {"width":526,"height":438,
  "encoding":{
   "x":{"field":"x","type":"quantitative","scale":{"domain":[0,2],"nice":false,"zero":false},"axis":{"values":[0,0.2,0.4,0.6,0.8,1,1.2,1.4,1.6,1.8,2],"format":"~g","title":"Coupling Ratio","titlePadding":23,"titleX":251}},
   "y":{"field":"y","type":"quantitative","scale":{"domain":[0,12],"nice":false,"zero":false},"axis":{"values":[0,2,4,6,8,10,12],"format":"~g","title":"API","titlePadding":13,"titleY":197}}
  },
  "layer":[
   {"data":{"name":"a1"},"mark":{"type":"circle","size":55,"color":"#4472c4","opacity":1}},
   {"data":{"name":"l1"},"mark":{"type":"line","color":"#4472c4","strokeWidth":1.6,"strokeDash":[1.6,2.4]}},
   {"data":{"values":[{"x":0.419,"y":8.94,"t":"R\u00b2 = 0.812"}]},"mark":{"type":"text","align":"left","baseline":"middle","fontSize":11,"color":"#404040","font":"Lato"},"encoding":{"text":{"field":"t"}}}
  ]},
 {"width":520,"height":438,
  "encoding":{
   "x":{"field":"x","type":"quantitative","scale":{"domain":[0,12],"nice":false,"zero":false},"axis":{"values":[0,2,4,6,8,10,12],"format":"~g","title":"API","titlePadding":18}},
   "y":{"field":"y","type":"quantitative","scale":{"domain":[0,0.9],"nice":false,"zero":false},"axis":{"values":[0,0.1,0.2,0.3,0.4,0.5,0.6,0.7,0.8,0.9],"format":"~g","title":"Mechanical Efficiency","titlePadding":12,"labelPadding":12}}
  },
  "layer":[
   {"data":{"name":"a2"},"mark":{"type":"circle","size":55,"color":"#4472c4","opacity":1}},
   {"data":{"name":"l2"},"mark":{"type":"line","color":"#4472c4","strokeWidth":1.6,"strokeDash":[1.6,2.4],"interpolate":"monotone"}},
   {"data":{"values":[{"x":8.28,"y":0.557,"t":"R\u00b2 = 0.9135"}]},"mark":{"type":"text","align":"left","baseline":"middle","fontSize":11,"color":"#404040","font":"Lato"},"encoding":{"text":{"field":"t"}}}
  ]}
 ]
},
{
 "title":{"text":"B","subtitle":["\u200b\u00a0\u00a0\u00a0\u00a0\u00a0\u00a0\u00a0\u2009\u2009Relationship of API to Coupling Ratio and Efficiency when","\u200b\u00a0\u00a0\u00a0\u00a0\u00a0\u00a0\u00a0\u2009\u2009PCWP > 20 mmHg"],"anchor":"start","font":"Liberation Sans","fontSize":23,"fontWeight":"bold","color":"#000000","subtitleFont":"Lato","subtitleFontSize":32.7,"subtitleColor":"#000000","subtitleLineHeight":40,"subtitlePadding":-17,"offset":34,"dx":2},
 "bounds":"flush",
 "spacing":0,
 "hconcat":[
 {"width":9,"height":437,"view":{"stroke":null},"data":{"values":[]},"mark":"point"},
 {"spacing":52,
  "hconcat":[
  {"width":523,"height":437,
   "encoding":{
    "x":{"field":"x","type":"quantitative","scale":{"domain":[0,1],"nice":false,"zero":false},"axis":{"values":[0,0.1,0.2,0.3,0.4,0.5,0.6,0.7,0.8,0.9,1],"format":"~g","title":"Coupling Ratio","titlePadding":23,"titleX":238}},
    "y":{"field":"y","type":"quantitative","scale":{"domain":[0,5],"nice":false,"zero":false},"axis":{"values":[0,0.5,1,1.5,2,2.5,3,3.5,4,4.5,5],"format":"~g","title":"API","titlePadding":18,"titleY":196}}
   },
   "layer":[
    {"data":{"name":"b1"},"mark":{"type":"circle","size":55,"color":"#4472c4","opacity":1}},
    {"data":{"name":"l3"},"mark":{"type":"line","color":"#4472c4","strokeWidth":1.6,"strokeDash":[1.6,2.4]}},
    {"data":{"values":[{"x":0.219,"y":3.236,"t":"R\u00b2 = 0.9426"}]},"mark":{"type":"text","align":"left","baseline":"middle","fontSize":11,"color":"#404040","font":"Lato"},"encoding":{"text":{"field":"t"}}}
   ]},
  {"width":523,"height":437,
   "encoding":{
    "x":{"field":"x","type":"quantitative","scale":{"domain":[0,4],"nice":false,"zero":false},"axis":{"values":[0,0.5,1,1.5,2,2.5,3,3.5,4],"format":"~g","title":"API","titlePadding":18,"titleX":256}},
    "y":{"field":"y","type":"quantitative","scale":{"domain":[0,0.8],"nice":false,"zero":false},"axis":{"values":[0,0.1,0.2,0.3,0.4,0.5,0.6,0.7,0.8],"format":"~g","title":"Mechanical Efficiency","titlePadding":20,"labelPadding":12}}
   },
   "layer":[
    {"data":{"name":"b2"},"mark":{"type":"circle","size":55,"color":"#4472c4","opacity":1}},
    {"data":{"name":"l4"},"mark":{"type":"line","color":"#4472c4","strokeWidth":1.6,"strokeDash":[1.6,2.4]}},
    {"data":{"values":[{"x":1.079,"y":0.545,"t":"R\u00b2 = 0.9581"}]},"mark":{"type":"text","align":"left","baseline":"middle","fontSize":11,"color":"#404040","font":"Lato"},"encoding":{"text":{"field":"t"}}}
   ]}
  ]}
 ]
}
]
}
